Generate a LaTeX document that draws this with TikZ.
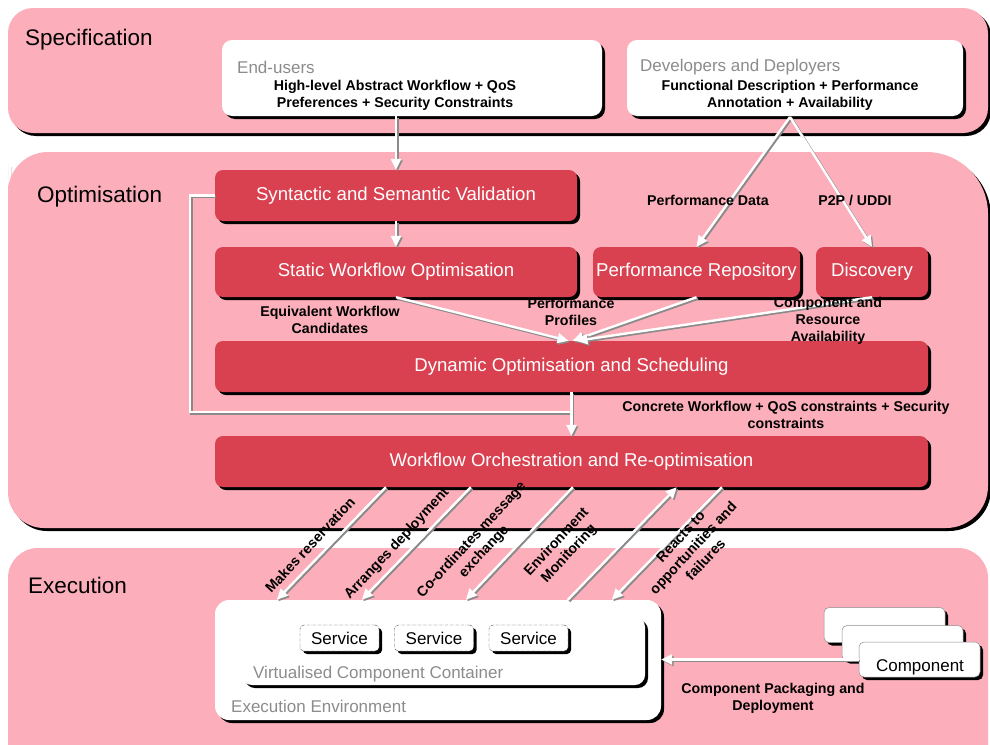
\documentclass[tikz,border=0pt]{standalone}
\usepackage{fontspec}
\setmainfont{Liberation Sans}
\usetikzlibrary{shadows,arrows.meta,calc}

\definecolor{BandPink}{HTML}{FCAFBA}
\definecolor{StageRed}{HTML}{D94150}
\definecolor{LabelGrey}{HTML}{8C8C8C}
\definecolor{ArrowGrey}{HTML}{8A8A8A}

\newcommand\bandfont{\fontsize{22.5}{26}\selectfont}
\newcommand\stagefont{\fontsize{18.6}{22}\selectfont}
\newcommand\notefont{\fontsize{14.2}{17}\selectfont\bfseries}
\newcommand\rolefont{\fontsize{17}{20}\selectfont}

% white connector with a grey shade under it
\newcommand\flowpath[2]{%
  \draw[flowshade,#1] #2;
  \draw[flowline,#1] #2;}

\tikzset{
  hardshadow/.style={drop shadow={shadow xshift=3pt,shadow yshift=-3pt,fill=black,opacity=1}},
  stagebox/.style={fill=StageRed,text=white,font=\stagefont,rounded corners=8pt,inner sep=0pt,hardshadow},
  whitebox/.style={fill=white,rounded corners=10pt,inner sep=0pt,hardshadow},
  servicebox/.style={draw=black!70,densely dash dot,line width=0.4pt,fill=white,rounded corners=4pt,
    minimum width=79pt,minimum height=26pt,inner sep=0pt,font=\rolefont,hardshadow},
  compbox/.style={draw=black!45,line width=0.5pt,fill=white,rounded corners=5pt,
    minimum width=121pt,minimum height=35pt,inner sep=0pt,hardshadow},
  flowline/.style={draw=white,line width=2.4pt},
  flowshade/.style={draw=ArrowGrey,line width=2.4pt,transform canvas={shift={(1.5pt,-1.5pt)}}},
  flowtip/.style={-{Triangle[length=11pt,width=10pt]}},
  nolink/.style={},
  note/.style={font=\notefont,align=center,inner sep=0pt},
  role/.style={font=\rolefont,text=LabelGrey,anchor=west,inner sep=0pt},
  band/.style={font=\bandfont,anchor=west,inner sep=0pt},
}

\begin{document}
\begin{tikzpicture}[x=1pt,y=-1pt]
  \useasboundingbox (0,0) rectangle (990,744);
  \clip (0,0) rectangle (990,744);

  % bands
  \fill[BandPink,rounded corners=25pt,hardshadow] (8,8) rectangle (988,133);
  \fill[BandPink,hardshadow] (8,200) [rounded corners=40pt] -- (8,152)
    [rounded corners=62pt] -- (988,152) [rounded corners=42pt] -- (988,528)
    [rounded corners=36pt] -- (8,528) -- cycle;
  \fill[BandPink,rounded corners=30pt] (8,548) rectangle (988,790);

  \node[band] (specband) at (25,40) {Specification};
  \node[band] (optband) at (37,197) {Optimisation};
  \node[band] (execband) at (28,585) {Execution};

  % specification
  \node[whitebox,minimum width=380pt,minimum height=76pt] (users) at (412,78) {};
  \node[whitebox,minimum width=336pt,minimum height=76pt] (devs) at (795,78) {};
  \node[role] (userslbl) at (237,67) {End-users};
  \node[note] (usersreq) at (395,95) {High-level Abstract Workflow + QoS\\Preferences + Security Constraints};
  \node[role] (devslbl) at (640,67) {Developers and Deployers};
  \node[note] (devsdesc) at (790,95) {Functional Description + Performance\\Annotation + Availability};
  \coordinate (devfoot) at (790,117);

  % optimisation
  \node[stagebox,minimum width=362pt,minimum height=51pt] (valid) at (396,195.5) {Syntactic and Semantic Validation};
  \node[stagebox,minimum width=362pt,minimum height=50pt] (static) at (396,272) {Static Workflow Optimisation};
  \node[stagebox,minimum width=207pt,minimum height=50pt] (perfrepo) at (696.5,272) {Performance Repository};
  \node[stagebox,minimum width=112pt,minimum height=50pt] (disco) at (872,272) {Discovery};
  \node[stagebox,minimum width=713pt,minimum height=51pt] (dynamic) at (571.5,366.5) {Dynamic Optimisation and Scheduling};
  \node[stagebox,minimum width=713pt,minimum height=51pt] (orch) at (571.5,461.5) {Workflow Orchestration and Re-optimisation};
  \coordinate (loopjoin) at (572,412);

  % execution
  \node[whitebox,rounded corners=14pt,minimum width=446pt,minimum height=120pt] (execenv) at (438,660) {};
  \node[whitebox,minimum width=403pt,minimum height=68pt] (container) at (443.5,651) {};
  \node[servicebox] (svcA) at (339.5,638) {Service};
  \node[servicebox] (svcB) at (434,638) {Service};
  \node[servicebox] (svcC) at (528.5,638) {Service};
  \node[role] (containerlbl) at (253,674) {Virtualised Component Container};
  \node[role] (execenvlbl) at (231,706) {Execution Environment};
  \node[compbox] (compA) at (884.5,625) {};
  \node[compbox] (compB) at (902.5,643) {};
  \node[compbox] (compC) at (919.5,659.5) {};
  \node[font=\rolefont,inner sep=0pt] (complbl) at (920,667) {Component};

  % connectors
  \flowpath{flowtip}{(valid.north |- users.south) -- (valid.north)}
  \flowpath{flowtip}{(valid.south) -- (static.north)}
  \flowpath{flowtip}{(devfoot) -- (perfrepo.north)}
  \flowpath{flowtip}{(devfoot) -- (disco.north)}
  \flowpath{flowtip}{(static.south) -- ([xshift=-3pt]dynamic.north)}
  \flowpath{flowtip}{(perfrepo.south) -- ([xshift=1pt]dynamic.north)}
  \flowpath{flowtip}{(disco.south) -- ([xshift=5pt]dynamic.north)}
  \flowpath{nolink}{(valid.west) -- ++(-25,0) |- (loopjoin)}
  \flowpath{flowtip}{(dynamic.south) -- (orch.north)}
  \flowpath{flowtip}{([xshift=171pt]orch.south west) -- ([xshift=62pt]execenv.north west)}
  \flowpath{flowtip}{([xshift=256pt]orch.south west) -- ([xshift=147pt]execenv.north west)}
  \flowpath{flowtip}{([xshift=358pt]orch.south west) -- ([xshift=251pt]execenv.north west)}
  \flowpath{flowtip}{([xshift=353pt]execenv.north west) -- ([xshift=462pt]orch.south west)}
  \flowpath{flowtip}{([xshift=507pt]orch.south west) -- ([xshift=397pt]execenv.north west)}
  \flowpath{flowtip}{(compC.west) -- (compC.west -| execenv.east)}

  % connector labels
  \node[note] (perfdata) at (708,200) {Performance Data};
  \node[note] (p2p) at (855,200) {P2P / UDDI};
  \node[note] (candidates) at (330,320) {Equivalent Workflow\\Candidates};
  \node[note] (profiles) at (571,312) {Performance\\Profiles};
  \node[note] (avail) at (828,321) {Component and\\Resource\\Availability};
  \node[note] (concrete) at (786,415) {Concrete Workflow + QoS constraints + Security\\constraints};
  \node[note,rotate=47] (reserve) at (310,545) {Makes reservation};
  \node[note,rotate=47] (arrange) at (397,544) {Arranges deployment};
  \node[note,rotate=47] (coord) at (478,546) {Co-ordinates message\\exchange};
  \node[note,rotate=47] (monitor) at (563,548) {Environment\\Monitoring};
  \node[note,rotate=47] (reacts) at (693,548) {Reacts to\\opportunities and\\failures};
  \node[note] (packaging) at (773,698) {Component Packaging and\\Deployment};
\end{tikzpicture}
\end{document}
